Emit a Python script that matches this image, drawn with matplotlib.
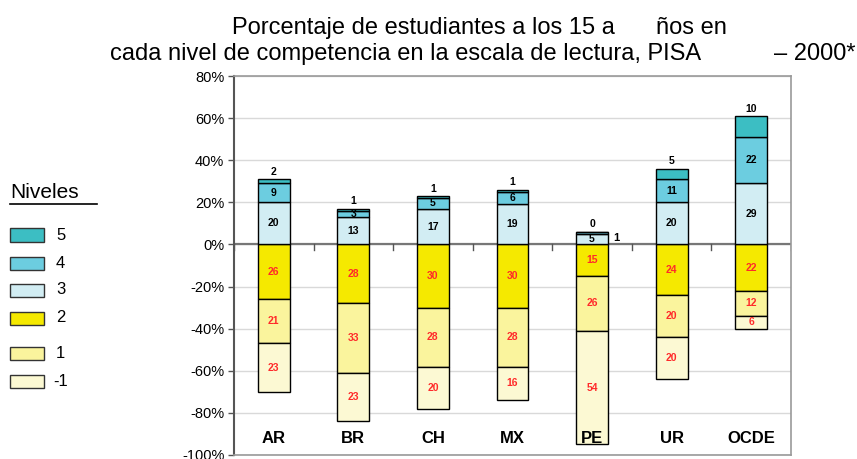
import matplotlib
matplotlib.use("Agg")
import matplotlib.pyplot as plt
from matplotlib.patches import Rectangle
from matplotlib.lines import Line2D
import numpy as np

plt.rcParams['font.family'] = ['Liberation Sans', 'DejaVu Sans']

categories = ['AR', 'BR', 'CH', 'MX', 'PE', 'UR', 'OCDE']
lvl_m1 = [23, 23, 20, 16, 54, 20, 6]
lvl_1 = [21, 33, 28, 28, 26, 20, 12]
lvl_2 = [26, 28, 30, 30, 15, 24, 22]
lvl_3 = [20, 13, 17, 19, 5, 20, 29]
lvl_4 = [9, 3, 5, 6, 1, 11, 22]
lvl_5 = [2, 1, 1, 1, 0, 5, 10]
legend_labels = ['5', '4', '3', '2', '1', '-1']
yticks = [80, 60, 40, 20, 0, -20, -40, -60, -80, -100]

colors = {'5': '#3CBEC3', '4': '#6CCDE0', '3': '#D2EDF3',
          '2': '#F5E900', '1': '#FAF49D', '-1': '#FCF9D3'}

W, H = 857, 459
fig = plt.figure(figsize=(W / 100, H / 100), dpi=100)
ax = fig.add_axes([234 / W, 1 - 455 / H, (791 - 234) / W, (455 - 76) / H])

x = np.arange(len(categories))
bw = 0.4

# negative stacks
neg_series = [('2', lvl_2), ('1', lvl_1), ('-1', lvl_m1)]
bottom = np.zeros(len(categories))
for key, vals in neg_series:
    v = -np.array(vals, dtype=float)
    ax.bar(x, v, bw, bottom=bottom, color=colors[key], edgecolor='black', linewidth=1.0, zorder=3)
    for i, val in enumerate(vals):
        ax.text(x[i], bottom[i] + v[i] / 2, str(val), ha='center', va='center',
                fontsize=7.5, fontweight='bold', color='#FF2A2A', zorder=5)
    bottom = bottom + v

# positive stacks
pos_series = [('3', lvl_3), ('4', lvl_4), ('5', lvl_5)]
bottom = np.zeros(len(categories))
for key, vals in pos_series:
    v = np.array(vals, dtype=float)
    ax.bar(x, v, bw, bottom=bottom, color=colors[key], edgecolor='black', linewidth=1.0, zorder=3)
    for i, val in enumerate(vals):
        if key == '5':
            ax.text(x[i], bottom[i] + v[i] + 3.5, str(val), ha='center', va='center',
                    fontsize=7.5, fontweight='bold', color='black', zorder=5)
        elif key == '4' and val < 2:
            ax.text(x[i] + bw / 2 + 0.06, bottom[i] - 2, str(val), ha='left', va='center',
                    fontsize=8, fontweight='bold', color='black', zorder=5)
        else:
            ax.text(x[i], bottom[i] + v[i] / 2, str(val), ha='center', va='center',
                    fontsize=7.5, fontweight='bold', color='black', zorder=5)
    bottom = bottom + v

ax.set_xlim(-0.5, len(categories) - 0.5)
ax.set_ylim(-100, 80)
ax.set_yticks(yticks)
ax.set_yticklabels([f'{t}%' for t in yticks], fontsize=10.5)
ax.tick_params(axis='y', length=4, width=1, color='#555555', pad=3)
ax.set_xticks([])
ax.grid(axis='y', color='#D9D9D9', linewidth=1, zorder=0)
ax.axhline(0, color='#777777', linewidth=1.6, zorder=2)
for b in np.arange(-0.5, len(categories)):
    ax.plot([b, b], [0, -2.5], color='#555555', linewidth=1, zorder=2)

for i, c in enumerate(categories):
    ax.text(x[i], -92, c, ha='center', va='center', fontsize=12, fontweight='bold', zorder=5)

for s in ['top', 'right', 'bottom']:
    ax.spines[s].set_color('#999999')
    ax.spines[s].set_linewidth(1.2)
ax.spines['left'].set_color('#555555')
ax.spines['left'].set_linewidth(1.5)

# title
tfs = 17
fig.text(232 / W, 1 - 34 / H, 'Porcentaje de estudiantes a los 15 a',
         ha='left', va='baseline', fontsize=tfs)
fig.text(727 / W, 1 - 34 / H, 'ños en', ha='right', va='baseline', fontsize=tfs)
fig.text(110 / W, 1 - 60 / H, 'cada nivel de competencia en la escala de lectura, PISA',
         ha='left', va='baseline', fontsize=tfs)
fig.text(855 / W, 1 - 60 / H, '– 2000*', ha='right', va='baseline', fontsize=tfs)

# legend
fig.text(10 / W, 1 - 193 / H, 'Niveles', ha='left', va='center', fontsize=15)
fig.add_artist(Line2D([10 / W, 97 / W], [1 - 204 / H, 1 - 204 / H], color='black', linewidth=1.2))
leg_y = [235, 263, 290, 318, 353, 381]
for lab, yy in zip(legend_labels, leg_y):
    fig.add_artist(Rectangle((10 / W, 1 - (yy + 6.5) / H), 34 / W, 13 / H,
                             facecolor=colors[lab], edgecolor='#333333', linewidth=1,
                             transform=fig.transFigure))
    fig.text(56 / W if lab != '-1' else 53 / W, 1 - yy / H, lab, ha='left', va='center', fontsize=12)

fig.savefig('out.png', dpi=100)
